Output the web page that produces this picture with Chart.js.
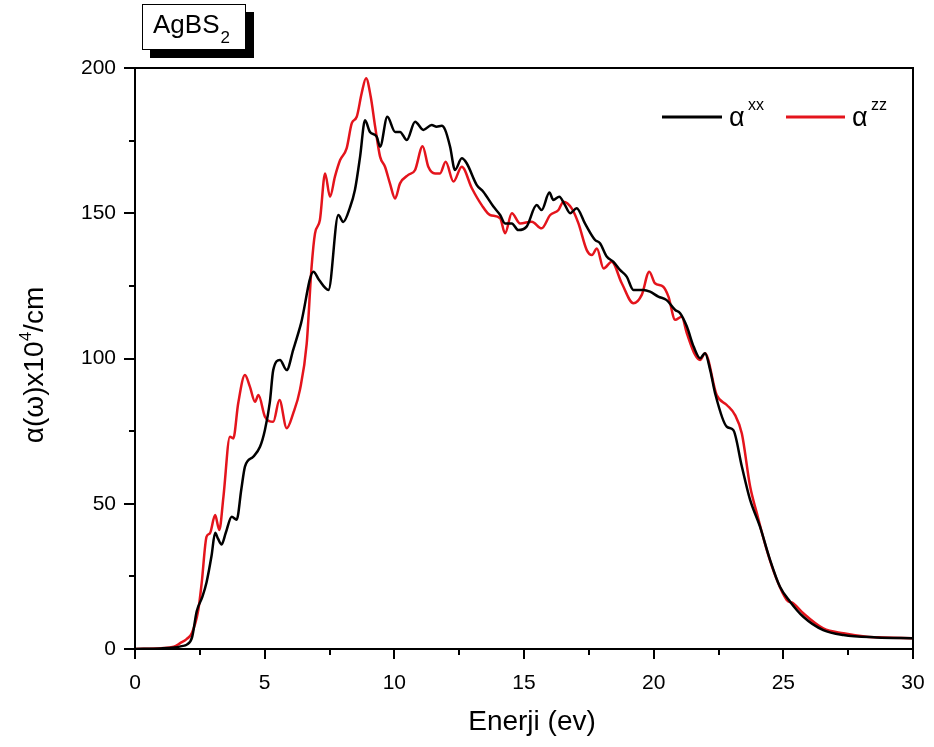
<!DOCTYPE html>
<html>
<head>
<meta charset="utf-8">
<script src="https://cdn.jsdelivr.net/npm/chart.js@4.4.1/dist/chart.umd.min.js"></script>
<style>
	html, body { margin: 0; padding: 0; background: #fff; }
	#wrap { width: 934px; height: 747px; }
</style>
</head>
<body>
<div id="wrap"><canvas id="grafico_alfa"></canvas></div>
<script>
//Datos
const xxEnergy = [0, 1.0, 1.5, 1.8, 2.0, 2.2, 2.38, 2.6, 2.76, 2.95, 3.09, 3.2, 3.34, 3.5, 3.73, 3.92, 4.1, 4.24, 4.56, 4.82, 5.01, 5.2, 5.33, 5.59, 5.85, 6.1, 6.4, 6.88, 7.1, 7.46, 7.84, 8.03, 8.29, 8.48, 8.68, 8.87, 9.06, 9.32, 9.45, 9.73, 10.03, 10.22, 10.48, 10.8, 11.12, 11.44, 11.63, 11.83, 11.96, 12.15, 12.34, 12.6, 12.79, 13.18, 13.43, 13.82, 14.08, 14.27, 14.53, 14.78, 15.1, 15.49, 15.68, 15.98, 16.13, 16.36, 16.58, 16.78, 17.03, 17.35, 17.74, 17.93, 18.19, 18.45, 18.7, 18.96, 19.22, 19.6, 19.86, 20.18, 20.5, 20.83, 21.02, 21.28, 21.54, 21.79, 21.98, 22.18, 22.37, 22.82, 23.07, 23.4, 23.72, 24.1, 24.49, 24.87, 25.26, 25.77, 26.54, 27.32, 28.6, 30]
const xxValues = [0, 0.2, 0.5, 1, 1.5, 4, 13, 18, 23, 32, 40, 38, 36, 40, 45.5, 44.5, 55, 62.8, 66.2, 69.6, 75.4, 85, 96, 99.5, 96, 103, 112, 129.9, 127, 123.6, 149.4, 147, 152, 158, 169.5, 182, 178, 176.4, 172.9, 183.2, 178, 178, 175.2, 181.5, 178.7, 180.4, 179.8, 180.1, 178.7, 172.9, 164.9, 168.9, 167.2, 159.7, 157.4, 152.3, 149.4, 146.5, 146.5, 144.2, 145.4, 152.8, 151.1, 157.1, 154.6, 155.7, 152.8, 150, 151.7, 146.5, 140.8, 139.7, 135.1, 133.3, 130.5, 128.2, 123.6, 123.6, 123, 121.3, 120.1, 116.7, 115.6, 111, 104.1, 100.1, 101.8, 96, 88, 76.5, 75.4, 62.8, 51.3, 42.1, 30.6, 21.4, 16.3, 11.1, 6.5, 4.8, 4, 3.7]

const zzEnergy = [0, 1.0, 1.5, 1.74, 2.0, 2.19, 2.44, 2.57, 2.76, 2.89, 3.09, 3.25, 3.41, 3.66, 3.79, 3.98, 4.24, 4.43, 4.63, 4.76, 5.01, 5.33, 5.57, 5.85, 6.1, 6.36, 6.62, 6.81, 6.94, 7.13, 7.33, 7.52, 7.71, 7.91, 8.16, 8.36, 8.55, 8.74, 8.91, 9.09, 9.26, 9.45, 9.64, 9.83, 10.03, 10.22, 10.54, 10.8, 11.09, 11.31, 11.57, 11.76, 11.98, 12.28, 12.6, 12.99, 13.37, 13.69, 14.08, 14.27, 14.53, 14.85, 15.3, 15.68, 16.01, 16.33, 16.52, 16.84, 17.1, 17.42, 17.62, 17.81, 18.07, 18.38, 18.77, 19.22, 19.54, 19.83, 20.05, 20.37, 20.57, 20.83, 21.08, 21.28, 21.6, 21.79, 21.98, 22.43, 22.82, 23.14, 23.4, 23.72, 23.98, 24.36, 24.75, 25.13, 25.39, 25.77, 26.54, 27.32, 28.22, 28.86, 30]
const zzValues = [0, 0.3, 0.8, 2, 3.5, 5.4, 13.4, 22.6, 38.7, 39.8, 46.1, 41, 52.4, 73.1, 72.5, 84.6, 94.3, 90.3, 85.1, 87.4, 80, 78.2, 85.7, 76, 81.1, 89.2, 105, 131.6, 143, 147.7, 163.7, 155.7, 162.6, 168.3, 172.3, 181, 183.2, 191.3, 196.5, 190.1, 179.8, 169.5, 166, 160.3, 155.1, 160.3, 163.2, 164.9, 173.1, 166, 163.7, 163.7, 167.7, 160.9, 166, 158.6, 152.8, 149.4, 148.3, 143.1, 150, 146.5, 147.1, 144.8, 149.4, 151.1, 154, 151.7, 146.5, 137.3, 135.6, 137.9, 131, 133.3, 125.9, 119, 121.9, 129.9, 125.9, 124.7, 121.3, 113.3, 114.4, 108.7, 101.2, 99.5, 101.8, 87.4, 84, 80.5, 74.2, 55.9, 46.7, 34.1, 23.8, 16.9, 15.7, 12.3, 7.1, 5.4, 4.2, 4, 3.7]

const xTicks = [0, 5, 10, 15, 20, 25, 30]
const yTicks = [0, 50, 100, 150, 200]

const fuente = '"Liberation Sans", Arial, sans-serif'
const colorRojo = 'rgb(228, 20, 28)'

const toPoints = (xs, ys) => xs.map((x, i) => ({ x: x, y: ys[i] }))

//Marco, ticks, leyenda y titulos
const decoracion = {
	id: 'decoracion',
	afterDraw(chart) {
		const ctx = chart.ctx
		const area = chart.chartArea
		const sx = chart.scales.x
		const sy = chart.scales.y
		ctx.save()
		ctx.strokeStyle = '#000'
		ctx.lineWidth = 2
		ctx.strokeRect(area.left, area.top, area.right - area.left, area.bottom - area.top)

		//ticks x (mayores y menores)
		for (let v = 0; v <= 30.001; v += 2.5) {
			let px = Math.round(sx.getPixelForValue(v))
			let len = (v % 5 === 0) ? 10 : 6
			ctx.beginPath()
			ctx.moveTo(px, area.bottom)
			ctx.lineTo(px, area.bottom + len)
			ctx.stroke()
		}
		//ticks y
		for (let v = 0; v <= 200.001; v += 25) {
			let py = Math.round(sy.getPixelForValue(v))
			let len = (v % 50 === 0) ? 11 : 6
			ctx.beginPath()
			ctx.moveTo(area.left, py)
			ctx.lineTo(area.left - len, py)
			ctx.stroke()
		}

		//leyenda
		ctx.fillStyle = '#000'
		ctx.textBaseline = 'alphabetic'
		ctx.lineWidth = 3
		ctx.strokeStyle = '#000'
		ctx.beginPath(); ctx.moveTo(662, 117); ctx.lineTo(722, 117); ctx.stroke()
		ctx.font = '27px ' + fuente
		ctx.fillText('α', 729, 126)
		ctx.font = '16px ' + fuente
		ctx.fillText('xx', 748, 110)
		ctx.strokeStyle = colorRojo
		ctx.beginPath(); ctx.moveTo(786, 117); ctx.lineTo(845, 117); ctx.stroke()
		ctx.font = '27px ' + fuente
		ctx.fillText('α', 852, 126)
		ctx.font = '16px ' + fuente
		ctx.fillText('zz', 871, 110)

		//caja titulo AgBS2
		ctx.fillStyle = '#000'
		ctx.fillRect(150, 12, 104, 46)
		ctx.fillStyle = '#fff'
		ctx.fillRect(142, 4, 104, 46)
		ctx.strokeStyle = '#000'
		ctx.lineWidth = 1
		ctx.strokeRect(142.5, 4.5, 103, 45)
		ctx.fillStyle = '#000'
		ctx.font = '26px ' + fuente
		ctx.fillText('AgBS', 153, 33)
		let w = ctx.measureText('AgBS').width
		ctx.font = '17px ' + fuente
		ctx.fillText('2', 153 + w + 1, 43)

		//titulo eje x
		ctx.font = '28px ' + fuente
		ctx.textAlign = 'center'
		ctx.fillText('Enerji (ev)', 532, 730)

		//titulo eje y (rotado, con superindice)
		ctx.translate(43, 365)
		ctx.rotate(-Math.PI / 2)
		ctx.textAlign = 'left'
		const p1 = 'α(ω)x10'
		const p3 = '/cm'
		ctx.font = '28px ' + fuente
		let w1 = ctx.measureText(p1).width
		let w3 = ctx.measureText(p3).width
		ctx.font = '17px ' + fuente
		let w2 = ctx.measureText('4').width
		let x0 = -(w1 + w2 + w3) / 2
		ctx.font = '28px ' + fuente
		ctx.fillText(p1, x0, 0)
		ctx.font = '17px ' + fuente
		ctx.fillText('4', x0 + w1, -12)
		ctx.font = '28px ' + fuente
		ctx.fillText(p3, x0 + w1 + w2, 0)
		ctx.restore()
	}
}

const generarGraficoAlfa = () => {
	let canvas = document.getElementById('grafico_alfa')
	let chart = new Chart(canvas, {
		type: 'line',
		data: {
			datasets: [
				{
					label: 'αxx',
					data: toPoints(xxEnergy, xxValues),
					borderColor: '#000',
					borderWidth: 2.5,
					pointRadius: 0,
					cubicInterpolationMode: 'monotone',
					fill: false
				},
				{
					label: 'αzz',
					data: toPoints(zzEnergy, zzValues),
					borderColor: colorRojo,
					borderWidth: 2.5,
					pointRadius: 0,
					cubicInterpolationMode: 'monotone',
					fill: false
				}
			]
		},
		options: {
			responsive: true,
			maintainAspectRatio: false,
			animation: false,
			events: [],
			layout: { padding: { left: 0, top: 68, right: 21, bottom: 0 } },
			plugins: {
				legend: { display: false },
				title: { display: false },
				tooltip: { enabled: false }
			},
			scales: {
				x: {
					type: 'linear',
					min: 0,
					max: 30,
					afterFit: (s) => { s.height = 98; s.paddingLeft = 0; s.paddingRight = 0 },
					afterBuildTicks: (s) => { s.ticks = xTicks.map(v => ({ value: v })) },
					grid: { display: false, drawTicks: false },
					border: { display: false },
					ticks: {
						padding: 22,
						color: '#000',
						maxRotation: 0,
						font: { family: fuente, size: 21 }
					}
				},
				y: {
					type: 'linear',
					min: 0,
					max: 200,
					afterFit: (s) => { s.width = 135; s.paddingTop = 0; s.paddingBottom = 0 },
					afterBuildTicks: (s) => { s.ticks = yTicks.map(v => ({ value: v })) },
					grid: { display: false, drawTicks: false },
					border: { display: false },
					ticks: {
						padding: 19,
						color: '#000',
						font: { family: fuente, size: 21 }
					}
				}
			}
		},
		plugins: [decoracion]
	})
}

generarGraficoAlfa()
</script>
</body>
</html>
